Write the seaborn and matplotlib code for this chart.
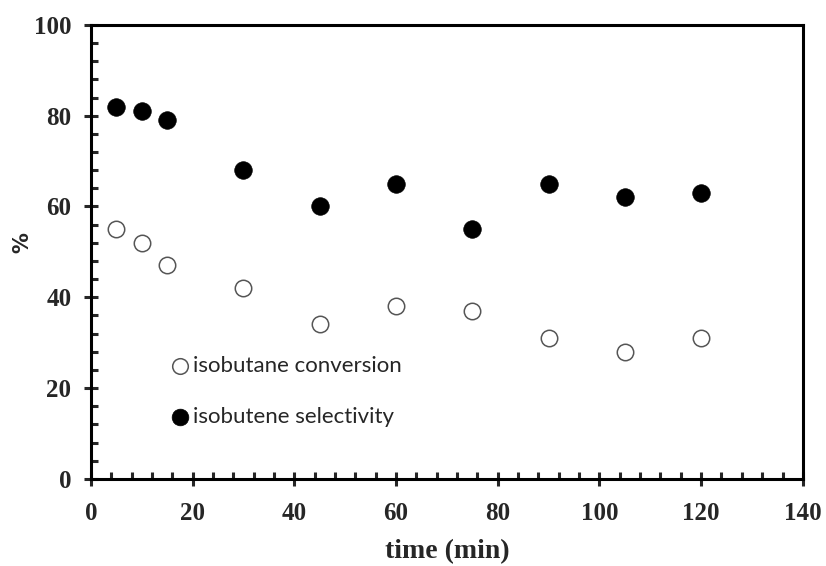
import numpy as np
import matplotlib.pyplot as plt
import pandas as pd
import seaborn as sns
from matplotlib.ticker import MultipleLocator

time_min = [5, 10, 15, 30, 45, 60, 75, 90, 105, 120]
conversion = [55, 52, 47, 42, 34, 38, 37, 31, 28, 31]
selectivity = [82, 81, 79, 68, 60, 65, 55, 65, 62, 63]

df = pd.DataFrame({'time': time_min, 'conversion': conversion, 'selectivity': selectivity})

sns.set_style('white')
plt.rcParams['font.family'] = ['Liberation Serif', 'DejaVu Serif']

fig = plt.figure(figsize=(8.26, 5.66), dpi=100)
ax = fig.add_axes([0.110, 0.154, 0.862, 0.802])

sns.scatterplot(data=df, x='time', y='conversion', ax=ax, s=140, marker='o',
                facecolor='white', edgecolor='#555555', linewidth=1.1,
                label='isobutane conversion', zorder=3)
sns.scatterplot(data=df, x='time', y='selectivity', ax=ax, s=160, marker='o',
                color='black', edgecolor='black', linewidth=0.5,
                label='isobutene selectivity', zorder=3)

ax.set_xlim(0, 140)
ax.set_ylim(0, 100)
ax.xaxis.set_major_locator(MultipleLocator(20))
ax.xaxis.set_minor_locator(MultipleLocator(4))
ax.yaxis.set_major_locator(MultipleLocator(20))
ax.yaxis.set_minor_locator(MultipleLocator(4))
ax.tick_params(which='major', direction='inout', length=10, width=2.2, labelsize=18)
ax.tick_params(axis='x', which='major', pad=12)
ax.tick_params(axis='y', which='major', pad=9)
ax.tick_params(which='minor', direction='in', length=5, width=2.2)
ax.tick_params(bottom=True, left=True, which='both')
for lbl in ax.get_xticklabels() + ax.get_yticklabels():
    lbl.set_fontweight('bold')
for sp in ax.spines.values():
    sp.set_linewidth(2.2)
    sp.set_color('black')

ax.set_xlabel('time (min)', fontsize=20, fontweight='bold', labelpad=10)
ax.set_ylabel('%', fontsize=15, fontweight='bold', family=['DejaVu Sans'])
ax.yaxis.set_label_coords(-0.082, 0.52)

leg = ax.legend(loc='upper left', bbox_to_anchor=(0.078, 0.295), frameon=False,
                prop={'family': 'Lato', 'size': 16}, handletextpad=-0.4,
                labelspacing=1.4, markerscale=0.95, borderpad=0)

fig.savefig('out.png', dpi=100)
